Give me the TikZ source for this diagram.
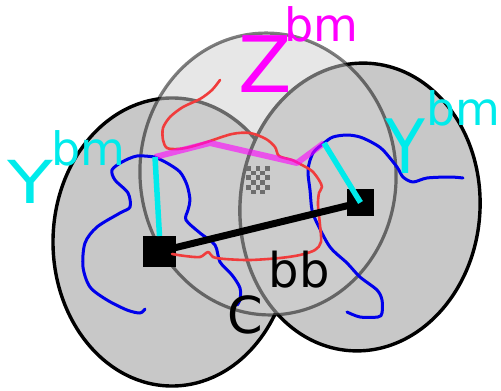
\documentclass[tikz,border=0pt]{standalone}
\usepackage{fontspec}
\setmainfont{DejaVu Sans}
\definecolor{blobfill}{RGB}{200,200,200}
\definecolor{zfill}{RGB}{208,208,208}
\definecolor{chaincol}{RGB}{0,0,235}
\definecolor{loopcol}{RGB}{240,60,60}
\definecolor{linkcol}{RGB}{0,235,235}
\definecolor{bridgecol}{RGB}{255,0,255}
\definecolor{checkcol}{RGB}{110,110,110}
\begin{document}
\begin{tikzpicture}[x=1pt,y=-1pt,
  blob/.style={draw=black,line width=3.4pt,fill=blobfill},
  zblob/.style={draw=black,line width=3.2pt,fill=zfill,opacity=0.5},
  chain/.style={chaincol,line width=3pt,line cap=round,line join=round},
  loopline/.style={loopcol,line width=2.6pt,line cap=round,line join=round},
  linkline/.style={linkcol,line width=5.5pt},
  bridge/.style={bridgecol,line width=6pt,opacity=0.6,line join=round},
  anchorbox/.style={fill=black,inner sep=0pt,outer sep=0pt},
  lbl/.style={inner sep=0pt,outer sep=0pt,anchor=base west},
  big/.style={font=\fontsize{75}{80}\selectfont},
  sup/.style={font=\fontsize{46}{50}\selectfont}]
\useasboundingbox (0,0) rectangle (501,391);

% three overlapping domains
\draw[blob] (172,242) ellipse [x radius=119pt, y radius=144pt];
\draw[blob,rotate around={-4:(360,207)}] (360,207) ellipse [x radius=120pt, y radius=144pt];
\draw[zblob,rotate around={4.5:(268,174)}] (268,174) ellipse [x radius=128pt, y radius=141pt];

% checkered patch
\foreach \i in {0,...,4}{
  \foreach \j in {0,...,5}{
    \pgfmathparse{int(mod(\i+\j,2))}
    \ifnum\pgfmathresult=0
      \fill[checkcol] (246+\i*4.8,166+\j*4.7) rectangle ++(4.8,4.7);
    \fi
  }
}

% anchor squares
\node[anchorbox,minimum width=33pt,minimum height=31pt] (sqL) at (159.5,251.5) {};
\node[anchorbox,minimum width=27pt,minimum height=27pt] (sqR) at (360.5,202.5) {};

\coordinate (jl) at (155,157);
\coordinate (jr) at (324,143);

% blue chains
\draw[chain] plot[smooth,tension=0.5] coordinates {(jl) (137,156) (122,162) (112,170) (115,180) (128,193) (130,207) (120,213) (97,227) (85,243) (83,267) (90,287) (107,300) (127,310) (140,313) (145,309)};
\draw[chain] plot[smooth,tension=0.5] coordinates {(jl) (167,163) (180,172) (187,185) (190,200) (188,210) (186,220) (200,233) (215,245) (220,262) (232,275) (240,288) (240,300) (237,305)};
\draw[chain] plot[smooth,tension=0.5] coordinates {(463,178) (450,177) (427,178) (413,182) (403,177) (397,167) (383,150) (373,143) (360,137) (347,135) (333,137) (jr) (313,153) (308,170) (310,190) (312,210) (317,223) (330,247) (347,263) (360,277) (377,290) (382,300) (382,313) (378,317) (360,317) (347,312)};

% red loop
\draw[loopline] plot[smooth,tension=0.5] coordinates {(220,80) (212,90) (200,99) (183,107) (170,117) (163,128) (163,140) (167,148) (178,149) (190,147) (207,142) (232,134) (250,133) (266,139) (275,147) (279,156) (292,160) (302,165) (312,171) (319,180) (322,187) (319,193) (318,205) (320,225) (321,242) (315,250) (300,255) (280,258) (250,260) (225,259) (213,257) (208,252) (200,257) (185,256) (172,254)};

% backbone
\draw[line width=7pt] (sqL.center) -- (sqR.center);

% magenta bridge
\draw[bridge] (jl) -- (210,143) -- (297,163) -- (jr);

% cyan links
\draw[linkline] (jl) -- (sqL.north);
\draw[linkline] (jr) -- (sqR.center);

% labels
\node[lbl,font=\fontsize{78}{80}\selectfont,text=bridgecol] (zl) at (238.5,92) {Z};
\node[lbl,sup,text=bridgecol] (zs) at (284,41) {bm};
\node[lbl,big,text=linkcol,yscale=0.79] (yl) at (7,203) {Y};
\node[lbl,sup,text=linkcol] (yls) at (51,165) {bm};
\node[lbl,big,text=linkcol,xscale=0.87] (yr) at (385,173) {Y};
\node[lbl,sup,text=linkcol] (yrs) at (426,125) {bm};
\node[lbl,font=\fontsize{48}{50}\selectfont] (bb) at (268.6,287) {bb};
\node[lbl,font=\fontsize{51}{54}\selectfont] (cl) at (227,333) {C};
\end{tikzpicture}
\end{document}
